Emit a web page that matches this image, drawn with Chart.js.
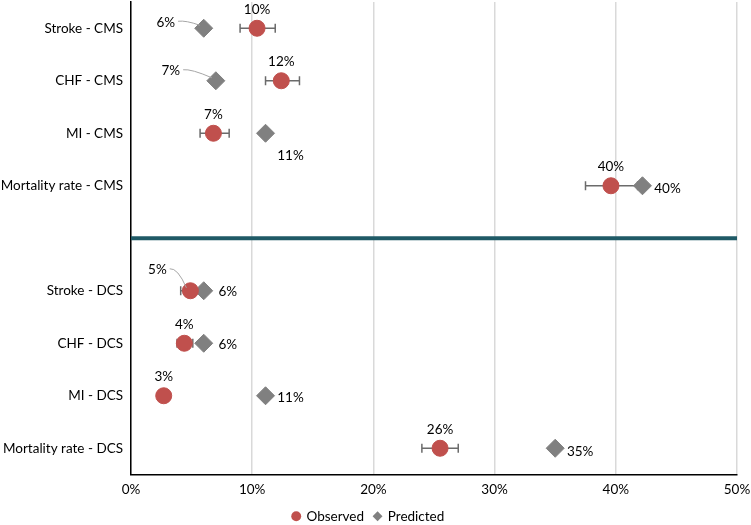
<!DOCTYPE html>
<html>
<head>
<meta charset="utf-8">
<script src="https://cdn.jsdelivr.net/npm/chart.js@4"></script>
<style>
  html, body { margin: 0; padding: 0; background: #fff; }
</style>
</head>
<body>
<canvas id="grafico" width="751" height="525"></canvas>
<script>
// dados (em %)
const categorias = ['Stroke - CMS', 'CHF - CMS', 'MI - CMS', 'Mortality rate - CMS',
                    'Stroke - DCS', 'CHF - DCS', 'MI - DCS', 'Mortality rate - DCS'];
const observado = [10.4, 12.4, 6.8, 39.6, 4.9, 4.4, 2.7, 25.5];
const obsMin = [9.0, 11.1, 5.7, 37.5, 4.1, 3.8, 2.7, 24.0];
const obsMax = [11.9, 13.9, 8.1, 41.8, 5.8, 5.1, 2.7, 27.0];
const previsto = [6.0, 7.0, 11.1, 42.2, 6.0, 6.0, 11.1, 35.0];
const rotObs = ['10%', '12%', '7%', '40%', '5%', '4%', '3%', '26%'];
const rotPrev = ['6%', '7%', '11%', '40%', '6%', '6%', '11%', '35%'];
const ticksX = [0, 10, 20, 30, 40, 50];

// linha 4 fica vazia (separador entre CMS e DCS)
const linha = i => (i < 4 ? i : i + 1);

// deslocamento dos rótulos [dx, dy, linha guia]
const posObs = [[0, -19], [0, -19], [0, -19], [0, -19], [-33, -21, true], [0, -19], [0, -19], [0, -19]];
const posPrev = [[-38, -6, true], [-45, -10, true], [25, 22], [25, 3], [24, 1], [24, 1], [25, 2], [25, 3]];

const FONTE = 'Lato, "Open Sans", sans-serif';

const pluginExtras = {
  id: 'extras',
  afterLayout(chart) {
    // ajusta a área do gráfico ao topo/direita do original
    const { chartArea, scales: { x, y } } = chart;
    chartArea.top = 2;
    chartArea.height = chartArea.bottom - chartArea.top;
    y.top = 2;
    y.height = y.bottom - y.top;
    y.configure();
    chartArea.right = 737;
    chartArea.width = chartArea.right - chartArea.left;
    x.right = 737;
    x.width = x.right - x.left;
    x.configure();
  },
  beforeDatasetsDraw(chart) {
    const { ctx, scales: { x, y }, chartArea } = chart;
    ctx.save();
    // separador
    ctx.strokeStyle = '#1F5A66';
    ctx.lineWidth = 4;
    ctx.beginPath();
    ctx.moveTo(chartArea.left, y.getPixelForValue(4));
    ctx.lineTo(chartArea.right, y.getPixelForValue(4));
    ctx.stroke();
    // barras de erro
    ctx.strokeStyle = '#6b6b6b';
    ctx.lineWidth = 1.5;
    observado.forEach((v, i) => {
      if (obsMin[i] === obsMax[i]) return;
      const py = y.getPixelForValue(linha(i));
      const x1 = x.getPixelForValue(obsMin[i]);
      const x2 = x.getPixelForValue(obsMax[i]);
      ctx.beginPath();
      ctx.moveTo(x1, py); ctx.lineTo(x2, py);
      ctx.moveTo(x1, py - 4.5); ctx.lineTo(x1, py + 4.5);
      ctx.moveTo(x2, py - 4.5); ctx.lineTo(x2, py + 4.5);
      ctx.stroke();
    });
    ctx.restore();
  },
  afterDatasetsDraw(chart) {
    const { ctx, scales: { x, y } } = chart;
    ctx.save();
    ctx.font = '13.5px ' + FONTE;
    ctx.fillStyle = '#000';
    ctx.textAlign = 'center';
    ctx.textBaseline = 'middle';
    const desenha = (vals, rots, pos) => {
      vals.forEach((v, i) => {
        const px = x.getPixelForValue(v);
        const py = y.getPixelForValue(linha(i));
        const [dx, dy, guia] = pos[i];
        const tx = px + dx, ty = py + dy;
        if (guia) {
          const w = ctx.measureText(rots[i]).width;
          ctx.strokeStyle = '#a6a6a6';
          ctx.lineWidth = 1;
          ctx.beginPath();
          const sx = tx + w / 2 + 3, sy = ty - 1;
          ctx.moveTo(sx, sy);
          ctx.quadraticCurveTo(sx + 8, sy - 1, px - 4, py - 3);
          ctx.stroke();
        }
        ctx.fillText(rots[i], tx, ty);
      });
    };
    desenha(observado, rotObs, posObs);
    desenha(previsto, rotPrev, posPrev);
    ctx.restore();
  }
};

new Chart(document.getElementById('grafico'), {
  type: 'scatter',
  data: {
    datasets: [
      {
        label: 'Observed',
        data: observado.map((v, i) => ({ x: v, y: linha(i) })),
        backgroundColor: '#C0504D',
        borderColor: '#C0504D',
        pointStyle: 'circle',
        pointRadius: 8,
        pointHoverRadius: 8
      },
      {
        label: 'Predicted',
        data: previsto.map((v, i) => ({ x: v, y: linha(i) })),
        backgroundColor: '#808080',
        borderColor: '#808080',
        pointStyle: 'rectRot',
        pointRadius: 9,
        pointHoverRadius: 9
      }
    ]
  },
  options: {
    responsive: false,
    animation: false,
    layout: { autoPadding: false, padding: { top: 2, right: 14, left: 0, bottom: -8 } },
    plugins: {
      tooltip: { enabled: false },
      legend: {
        position: 'bottom',
        labels: {
          usePointStyle: true,
          boxWidth: 7,
          boxHeight: 7,
          padding: 10,
          color: '#000',
          font: { family: FONTE, size: 13.5 },
          generateLabels(chart) {
            return chart.data.datasets.map((ds, i) => ({
              text: ds.label,
              fillStyle: ds.backgroundColor,
              strokeStyle: ds.backgroundColor,
              pointStyle: ds.pointStyle,
              lineWidth: 0,
              datasetIndex: i,
              fontColor: '#000'
            }));
          }
        }
      }
    },
    scales: {
      x: {
        type: 'linear',
        min: 0,
        max: 50,
        afterBuildTicks(scale) { scale.ticks = ticksX.map(v => ({ value: v })); },
        afterFit(scale) { scale.height = 25; },
        ticks: {
          callback: v => v + '%',
          color: '#000',
          font: { family: FONTE, size: 13.5 },
          padding: 7,
          maxRotation: 0,
          autoSkip: false
        },
        grid: { color: '#d9d9d9', lineWidth: 1.5, drawTicks: false },
        border: { color: '#000', width: 1.5 }
      },
      y: {
        type: 'linear',
        reverse: true,
        min: -0.5,
        max: 8.5,
        afterBuildTicks(scale) {
          scale.ticks = categorias.map((c, i) => ({ value: linha(i) }));
        },
        afterFit(scale) { scale.width = 131; },
        ticks: {
          callback: v => categorias[v < 4 ? v : v - 1],
          color: '#000',
          font: { family: FONTE, size: 13.5, lineHeight: 0.1 },
          padding: 8,
          autoSkip: false
        },
        grid: { display: false, drawTicks: false },
        border: { color: '#000', width: 1.5 }
      }
    }
  },
  plugins: [pluginExtras]
});
</script>
</body>
</html>
